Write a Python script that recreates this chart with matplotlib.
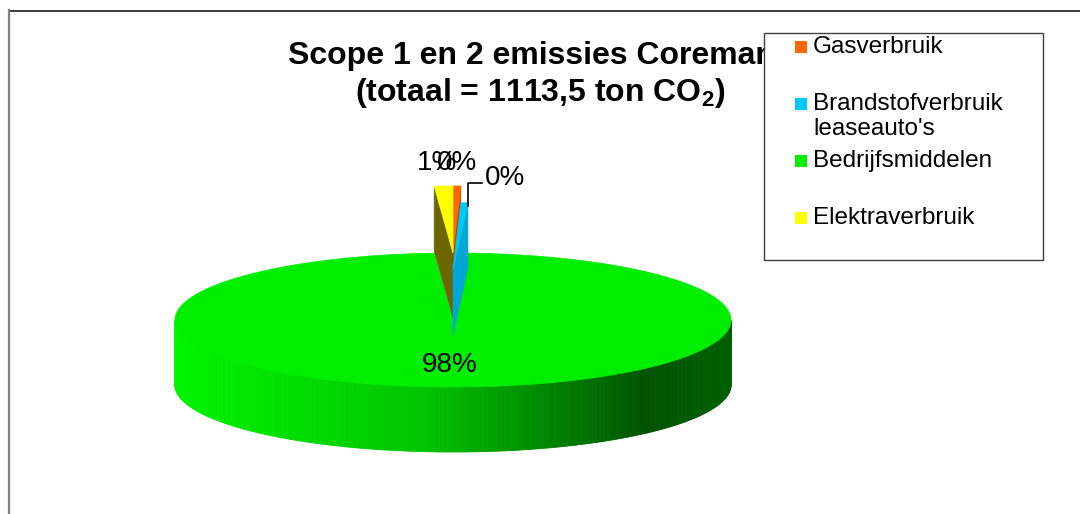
import numpy as np
import matplotlib.pyplot as plt
from matplotlib.patches import Polygon, Rectangle
from matplotlib.colors import LinearSegmentedColormap

plt.rcParams['font.family'] = ['Liberation Sans', 'DejaVu Sans']
plt.rcParams['mathtext.fontset'] = 'custom'
plt.rcParams['mathtext.rm'] = 'Liberation Sans'
plt.rcParams['mathtext.bf'] = 'Liberation Sans:bold'

categories = ['Gasverbruik', "Brandstofverbruik\nleaseauto's", 'Bedrijfsmiddelen', 'Elektraverbruik']
emissions = [5.0, 4.5, 1092.0, 12.0]  # ton CO2, total 1113.5
colors = ['#FF6600', '#00C8FA', '#00EE00', '#FFFF00']
side_colors = ['#B84A00', '#00A6D6', '#00A000', '#6B6600']
explode = [1.0, 0.75, 0.0, 1.0]

title_1 = 'Scope 1 en 2 emissies Coremans'
title_2 = '(totaal = 1113,5 ton CO$_\\mathbf{2}$)'

# pie geometry (pixels)
cx, cy = 453, 320
rx, ry = 278, 67
depth = 65

side_cmap = LinearSegmentedColormap.from_list(
    'side', [(0.0, '#00F400'), (0.45, '#00C400'), (0.85, '#005200'), (1.0, '#006000')])

fig = plt.figure(figsize=(10.8, 5.14), dpi=100)
ax = fig.add_axes([0, 0, 1, 1])
ax.set_xlim(0, 1080)
ax.set_ylim(514, 0)
ax.axis('off')

# chart frame
ax.plot([9, 1080], [10.5, 10.5], color='#1a1a1a', lw=1.2)
ax.plot([9, 9], [10, 514], color='#808080', lw=1.6)


def rim(t, ox, oy, down=0):
    return np.column_stack([ox + rx * np.cos(t), oy - ry * np.sin(t) + down])


def draw_slice(a, b, color, side, ox, oy, gradient=False):
    # outer (curved) side, only the front half is visible
    tt = np.linspace(a, b, 600)
    for t0, t1 in zip(tt[:-1], tt[1:]):
        if np.sin(t0) < 0 and np.sin(t1) < 0:
            top = rim(np.array([t0, t1]), ox, oy)
            bot = rim(np.array([t1, t0]), ox, oy, depth)
            if gradient:
                c = side_cmap((top[0, 0] - (cx - rx)) / (2 * rx))
            else:
                c = side
            ax.add_patch(Polygon(np.vstack([top, bot]), closed=True, fc=c, ec=c, lw=0.6))
    # radial cut faces
    for t, visible in ((a, np.cos(a) < 0), (b, np.cos(b) > 0)):
        if visible:
            p = rim(np.array([t]), ox, oy)[0]
            face = [(ox, oy), p, (p[0], p[1] + depth), (ox, oy + depth)]
            ax.add_patch(Polygon(face, closed=True, fc=side, ec=side, lw=0.5))
    # top face
    pts = np.vstack([[(ox, oy)], rim(np.linspace(a, b, 400), ox, oy)])
    ax.add_patch(Polygon(pts, closed=True, fc=color, ec=color, lw=0.5))


total = sum(emissions)
fracs = np.array(emissions) / total
starts = np.pi / 2 - 2 * np.pi * np.concatenate([[0], np.cumsum(fracs)[:-1]])
ends = starts - 2 * np.pi * fracs

order = [i for i in range(len(emissions)) if explode[i] == 0]
order += sorted([i for i in range(len(emissions)) if explode[i] > 0], key=lambda i: -explode[i])
for i in order:
    # exploded slices sit at the top, they lift straight up
    oy = cy - explode[i] * ry
    draw_slice(starts[i], ends[i], colors[i], side_colors[i], cx, oy, gradient=explode[i] == 0)

# data labels
pct = [f'{round(f * 100):.0f}%' for f in fracs]
ax.text(cx - 3, cy + 45, pct[2], ha='center', va='center', fontsize=20)
ax.text(437, 163, pct[3], ha='center', va='center', fontsize=20)
ax.text(457, 163, pct[0], ha='center', va='center', fontsize=20)
ax.text(485, 178, pct[1], ha='left', va='center', fontsize=20)
ax.plot([482, 468, 468], [183, 183, 206], color='black', lw=1.2)

# title
ax.text(540, 64, title_1, ha='center', va='baseline', fontsize=23, weight='bold')
ax.text(540, 101, title_2, ha='center', va='baseline', fontsize=23, weight='bold')

# legend
ax.add_patch(Rectangle((764, 33), 279, 227, fc='white', ec='#404040', lw=1.0, zorder=5))
for i, label in enumerate(categories):
    yc = 47 + 57 * i
    ax.add_patch(Rectangle((795, yc - 6), 12, 12, fc=colors[i], ec='none', zorder=6))
    for k, line in enumerate(label.split('\n')):
        ax.text(813, yc + 25 * k, line, ha='left', va='center', fontsize=17.5, zorder=6)

fig.savefig('out.png', dpi=100)
